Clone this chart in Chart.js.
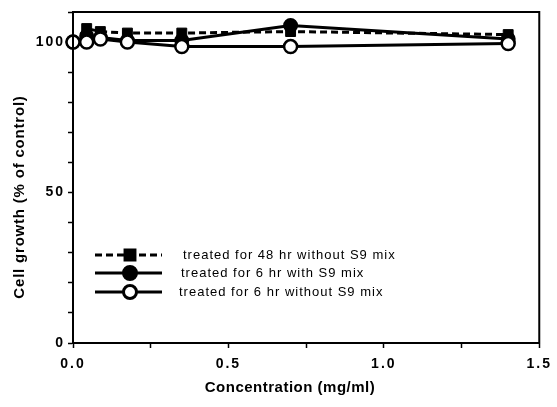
<!DOCTYPE html>
<html>
<head>
<meta charset="utf-8">
<script src="https://cdn.jsdelivr.net/npm/chart.js@4.4.1/dist/chart.umd.min.js"></script>
<style>
  html, body { margin: 0; padding: 0; background: #fff; }
  canvas { display: block; }
</style>
</head>
<body>
<canvas id="c" width="557" height="407"></canvas>
<script>
// concentrations (mg/ml) and cell growth (% of control)
var doses = [0, 0.044, 0.088, 0.175, 0.35, 0.7, 1.4];
var growth48hNoS9 = [100, 104.5, 103.5, 103, 103, 103.5, 102.5];
var growth6hS9 = [100, 102, 101.5, 100.5, 100.5, 105.5, 101];
var growth6hNoS9 = [100, 100, 101, 100, 98.5, 98.5, 99.5];
var seriesNames = ['treated for 48 hr without S9 mix', 'treated for 6 hr with S9 mix', 'treated for 6 hr without S9 mix'];
var yLabelled = [0, 50, 100];
var xLabelled = [0, 0.5, 1, 1.5];

var FONT = '"Liberation Sans", Arial, sans-serif';

function pts(ys) {
  return doses.map(function(d, i) { return { x: d, y: ys[i] }; });
}

// legend rows drawn inside the plot, like the original figure
var legendRows = [
  { y: 255, textX: 183 },
  { y: 273, textX: 181 },
  { y: 292, textX: 179 }
];

var boxAndText = {
  id: 'boxAndText',
  beforeDraw: function(chart) {
    chart.ctx.letterSpacing = '2px';
  },
  beforeDatasetsDraw: function(chart) {
    chart.ctx.letterSpacing = '0px';
  },
  afterDraw: function(chart) {
    var ctx = chart.ctx, a = chart.chartArea;
    ctx.save();
    ctx.strokeStyle = '#000';
    ctx.lineWidth = 2;
    ctx.strokeRect(a.left, a.top, a.right - a.left, a.bottom - a.top);

    // legend
    chart.data.datasets.forEach(function(ds, i) {
      var row = legendRows[i];
      ctx.save();
      ctx.strokeStyle = '#000';
      ctx.lineWidth = ds.borderWidth;
      ctx.setLineDash(ds.borderDash || []);
      ctx.beginPath();
      ctx.moveTo(95, row.y);
      ctx.lineTo(162, row.y);
      ctx.stroke();
      ctx.setLineDash([]);
      ctx.fillStyle = ds.pointBackgroundColor;
      ctx.strokeStyle = '#000';
      Chart.helpers.drawPoint(ctx, {
        pointStyle: ds.pointStyle, radius: ds.pointRadius,
        borderWidth: ds.pointBorderWidth, rotation: 0
      }, 130, row.y);
      ctx.restore();

      ctx.font = '13px ' + FONT;
      ctx.letterSpacing = '1px';
      ctx.fillStyle = '#000';
      ctx.textAlign = 'left';
      ctx.textBaseline = 'middle';
      ctx.fillText(ds.label, row.textX, row.y);
    });

    // axis titles
    ctx.fillStyle = '#000';
    ctx.textAlign = 'center';
    ctx.textBaseline = 'middle';
    ctx.font = 'bold 15px ' + FONT;
    ctx.letterSpacing = '0.5px';
    ctx.fillText('Concentration (mg/ml)', 290, 388);
    ctx.translate(20, 197);
    ctx.rotate(-Math.PI / 2);
    ctx.letterSpacing = '0.8px';
    ctx.fillText('Cell growth (% of control)', 0, 0);
    ctx.restore();
  }
};

new Chart(document.getElementById('c'), {
  type: 'line',
  data: {
    datasets: [
      {
        label: seriesNames[0], data: pts(growth48hNoS9), order: 3,
        borderColor: '#000', borderWidth: 3, borderDash: [7, 4],
        pointStyle: 'rect', pointRadius: 7, pointBorderWidth: 1,
        pointBackgroundColor: '#000', pointBorderColor: '#000', clip: false
      },
      {
        label: seriesNames[1], data: pts(growth6hS9), order: 2,
        borderColor: '#000', borderWidth: 3,
        pointStyle: 'circle', pointRadius: 6.5, pointBorderWidth: 2,
        pointBackgroundColor: '#000', pointBorderColor: '#000', clip: false
      },
      {
        label: seriesNames[2], data: pts(growth6hNoS9), order: 1,
        borderColor: '#000', borderWidth: 3,
        pointStyle: 'circle', pointRadius: 6.5, pointBorderWidth: 2.5,
        pointBackgroundColor: '#fff', pointBorderColor: '#000', clip: false
      }
    ]
  },
  options: {
    responsive: false,
    animation: false,
    layout: { padding: { top: 12, right: 13, left: 0, bottom: 0 } },
    plugins: { legend: { display: false }, tooltip: { enabled: false } },
    scales: {
      x: {
        type: 'linear', min: 0, max: 1.5,
        afterFit: function(s) { s.height = 64; },
        border: { display: true, color: '#000', width: 2 },
        grid: { drawOnChartArea: false, drawTicks: true, tickLength: 5, tickColor: '#000', tickWidth: 1.5 },
        ticks: {
          stepSize: 0.25, padding: 8, color: '#000', maxRotation: 0,
          font: { family: FONT, size: 14, weight: 'bold' },
          callback: function(v) { return xLabelled.indexOf(v) >= 0 ? v.toFixed(1) : ''; }
        }
      },
      y: {
        min: 0, max: 110,
        afterFit: function(s) { s.width = 73; },
        border: { display: true, color: '#000', width: 2 },
        grid: { drawOnChartArea: false, drawTicks: true, tickLength: 5, tickColor: '#000', tickWidth: 1.5 },
        ticks: {
          stepSize: 10, padding: 3, color: '#000',
          font: { family: FONT, size: 14, weight: 'bold' },
          callback: function(v) { return yLabelled.indexOf(v) >= 0 ? String(v) : ''; }
        }
      }
    }
  },
  plugins: [boxAndText]
});
</script>
</body>
</html>
